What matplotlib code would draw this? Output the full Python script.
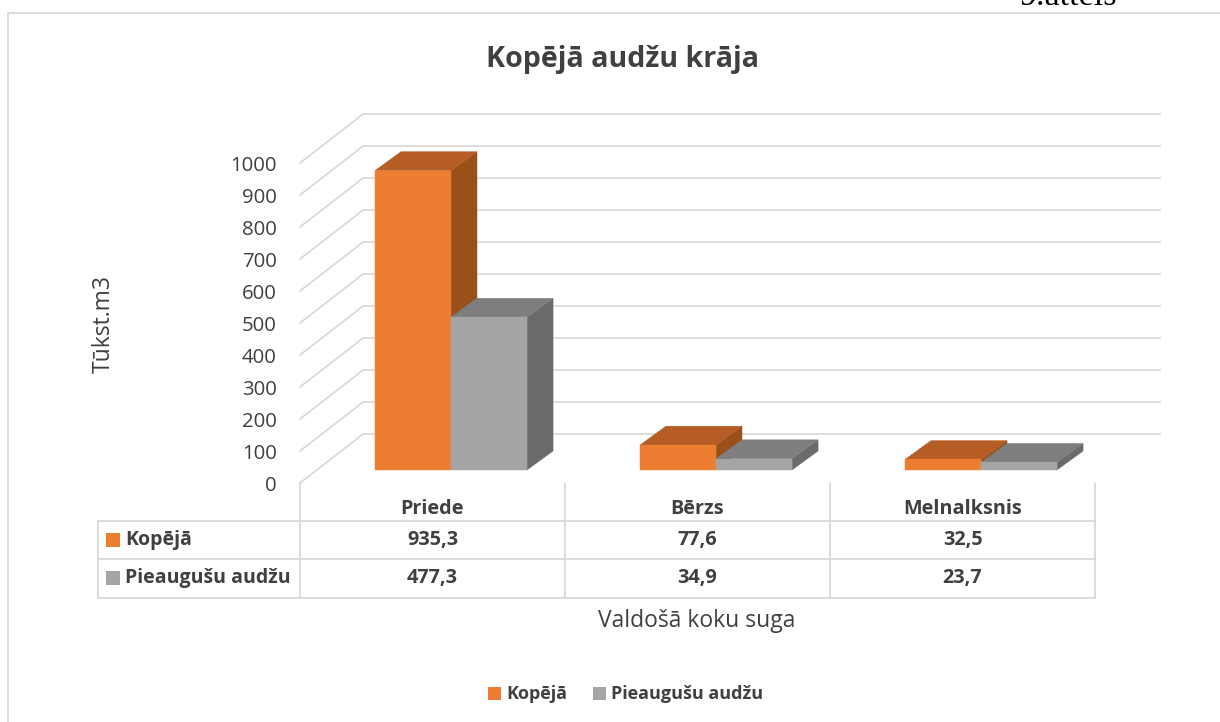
from matplotlib import pyplot as plt
from matplotlib import transforms
from matplotlib.patches import Polygon, Rectangle

title = "Kopējā audžu krāja"
corner_note = "9.attēls"
y_label = "Tūkst.m3"
x_label = "Valdošā koku suga"
categories = ["Priede", "Bērzs", "Melnalksnis"]
series_names = ["Kopējā", "Pieaugušu audžu"]
kopeja = [935.3, 77.6, 32.5]
pieaugusu = [477.3, 34.9, 23.7]
y_ticks = [0, 100, 200, 300, 400, 500, 600, 700, 800, 900, 1000]

front_colors = ["#ED7D31", "#A5A5A5"]
top_colors = ["#B55D25", "#7E7E7E"]
side_colors = ["#9A5019", "#6A6A6A"]
grid_color = "#D9D9D9"
text_color = "#404040"

W, H = 1220, 722
plt.rcParams["font.family"] = ["Open Sans", "Noto Sans", "DejaVu Sans"]

fig = plt.figure(figsize=(W / 100, H / 100), dpi=100)
# everything outside the plot area is placed in image pixels, y going down
px = transforms.Affine2D().scale(1 / W, -1 / H).translate(0, 1) + fig.transFigure

# front plane of the fake 3d box: x in categories, y in axis values
ax = fig.add_axes([300 / W, (H - 483) / H, 795 / W, 320 / H])
ax.set_xlim(0, 3)
ax.set_ylim(0, 1000)
ax.axis("off")

wall_dx, wall_dy = 0.238, 153
bar_dx, bar_dy = 0.098, 59
bar_base = 41
bar_start = 0.283
bar_w = 0.287
grid_end = 3.245


def add_poly(points, color, z):
    ax.add_patch(Polygon(points, closed=True, facecolor=color, edgecolor=color,
                         lw=0.3, clip_on=False, zorder=z))


for tick in y_ticks:
    ax.plot([0, wall_dx, grid_end], [tick, tick + wall_dy, tick + wall_dy],
            color=grid_color, lw=1.3, clip_on=False, zorder=1)

for s, values in enumerate([kopeja, pieaugusu]):
    for c, value in enumerate(values):
        x0 = c + bar_start + s * bar_w
        x1 = x0 + bar_w
        y0 = bar_base
        y1 = bar_base + value
        z = 2 + s
        add_poly([(x1, y0), (x1 + bar_dx, y0 + bar_dy), (x1 + bar_dx, y1 + bar_dy), (x1, y1)],
                 side_colors[s], z)
        add_poly([(x0, y1), (x1, y1), (x1 + bar_dx, y1 + bar_dy), (x0 + bar_dx, y1 + bar_dy)],
                 top_colors[s], z)
        add_poly([(x0, y0), (x1, y0), (x1, y1), (x0, y1)], front_colors[s], z)

for tick in y_ticks:
    ax.annotate(str(tick), xy=(0, tick), xytext=(-23, -3), textcoords="offset pixels",
                ha="right", va="center", fontsize=14.7, color=text_color, annotation_clip=False)


def hline(x0, x1, y):
    fig.add_artist(plt.Line2D([x0, x1], [y, y], color=grid_color, lw=1.3, transform=px))


def vline(x, y0, y1):
    fig.add_artist(plt.Line2D([x, x], [y0, y1], color=grid_color, lw=1.3, transform=px))


def px_text(x, y, s, **kw):
    kw.setdefault("color", text_color)
    kw.setdefault("va", "center")
    kw.setdefault("ha", "center")
    fig.text(x, y, s, transform=px, **kw)


# data table under the chart
col_edges = [300, 565, 830, 1095]
row_y = [521, 559, 598]
for y in row_y:
    hline(98, 1095, y)
vline(98, 521, 598)
vline(300, 483, 598)
for x in col_edges[1:]:
    vline(x, 484, 598)

for c, name in enumerate(categories):
    cx = (col_edges[c] + col_edges[c + 1]) / 2
    px_text(cx, 508.5, name, fontsize=14.3, fontweight="bold")
    px_text(cx, 540, f"{kopeja[c]:.1f}".replace(".", ","), fontsize=14.3, fontweight="bold")
    px_text(cx, 578, f"{pieaugusu[c]:.1f}".replace(".", ","), fontsize=14.3, fontweight="bold")

for s, name in enumerate(series_names):
    y = 540 + 38 * s
    fig.add_artist(Rectangle((106, y - 7), 14, 14, facecolor=front_colors[s], edgecolor="none", transform=px))
    px_text(125, y, name, fontsize=14, fontweight="bold", ha="left")

# outer chart frame, the right and bottom edges are cropped off
hline(8, W, 12.5)
vline(8, 12.5, H)

px_text(622, 59.5, title, fontsize=20.6, fontweight="bold")
px_text(1069, 5, corner_note, fontsize=24.5, color="black", family="Liberation Serif", va="baseline")
px_text(104, 324, y_label, fontsize=16.5, rotation=90)
px_text(697, 621, x_label, fontsize=16.5)

legend_x = [488, 593]
for s, name in enumerate(series_names):
    fig.add_artist(Rectangle((legend_x[s], 687), 13, 13, facecolor=front_colors[s], edgecolor="none", transform=px))
    px_text(legend_x[s] + 18, 694, name, fontsize=13, fontweight="bold", ha="left")

fig.savefig("out.png", dpi=100)
